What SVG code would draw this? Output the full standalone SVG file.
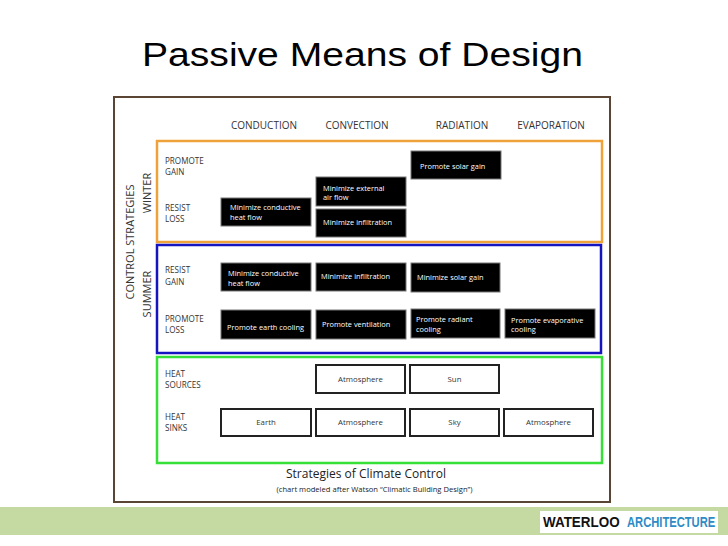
<svg xmlns="http://www.w3.org/2000/svg" width="728" height="546" viewBox="0 0 728 546">
<style>
.title{font-family:"Liberation Sans",Arial,sans-serif;font-size:33px;fill:#000}
.hdr{font-family:"Open Sans","Liberation Sans",sans-serif;font-size:10px;fill:#333}
.lbl{font-family:"Open Sans","Liberation Sans",sans-serif;font-size:8.1px;fill:#333}
.side{font-family:"Open Sans","Liberation Sans",sans-serif;font-size:11px;fill:#333}
.bt{font-family:"Open Sans","Liberation Sans",sans-serif;font-size:7.4px;fill:#fff}
.ht{font-family:"Open Sans","Liberation Sans",sans-serif;font-size:7.8px;fill:#333;text-anchor:middle}
.blk{fill:#000;stroke:#777;stroke-width:1}
.wht{fill:#fff;stroke:#222;stroke-width:2}
.logo{font-family:"Liberation Sans",sans-serif;font-weight:bold;font-size:14px}
</style>
<rect width="728" height="546" fill="#fff"/>
<text class="title" x="142" y="66" textLength="441" lengthAdjust="spacingAndGlyphs">Passive Means of Design</text>
<rect x="114" y="97" width="496" height="405" fill="#fff" stroke="#5a4535" stroke-width="2"/>
<rect x="0" y="507" width="728" height="28" fill="#c5d9a2"/>
<g id="logo">
<rect x="540" y="511" width="178" height="22" fill="#fff"/>
<text class="logo" transform="translate(543,527) scale(0.96,1)" fill="#111">WATERLOO</text>
<text class="logo" transform="translate(627,527) scale(0.8,1)" fill="#2e8bc6">ARCHITECTURE</text>
</g>
<g id="headers">
<text class="hdr" x="264" y="129" text-anchor="middle">CONDUCTION</text>
<text class="hdr" x="357" y="129" text-anchor="middle">CONVECTION</text>
<text class="hdr" x="462" y="129" text-anchor="middle">RADIATION</text>
<text class="hdr" x="551" y="129" text-anchor="middle">EVAPORATION</text>
</g>
<g id="side-labels">
<text class="side" transform="translate(134,242) rotate(-90)" text-anchor="middle">CONTROL STRATEGIES</text>
<text class="side" transform="translate(151,193) rotate(-90)" text-anchor="middle">WINTER</text>
<text class="side" transform="translate(151,294) rotate(-90)" text-anchor="middle">SUMMER</text>
</g>
<g id="winter">
<rect x="157" y="141" width="445" height="101" fill="none" stroke="#f0a23a" stroke-width="2.5"/>
<text class="lbl" x="165" y="164">PROMOTE</text>
<text class="lbl" x="165" y="175">GAIN</text>
<text class="lbl" x="165" y="211">RESIST</text>
<text class="lbl" x="165" y="222">LOSS</text>
</g>
<g id="summer">
<rect x="157" y="245" width="444" height="108" fill="none" stroke="#1414c0" stroke-width="2.5"/>
<text class="lbl" x="165" y="273">RESIST</text>
<text class="lbl" x="165" y="285">GAIN</text>
<text class="lbl" x="165" y="322">PROMOTE</text>
<text class="lbl" x="165" y="333">LOSS</text>
</g>
<g id="sources-sinks">
<rect x="157" y="357" width="445" height="106" fill="none" stroke="#36e036" stroke-width="2.5"/>
<text class="lbl" x="165" y="377">HEAT</text>
<text class="lbl" x="165" y="388">SOURCES</text>
<text class="lbl" x="165" y="420">HEAT</text>
<text class="lbl" x="165" y="431">SINKS</text>
</g>
<g id="w-conduction"><rect class="blk" x="221" y="198" width="90" height="28"/><text class="bt" x="230" y="210">Minimize conductive</text><text class="bt" x="230" y="220">heat flow</text></g>
<g id="w-conv-air"><rect class="blk" x="316" y="177" width="90" height="29"/><text class="bt" x="323" y="191">Minimize external</text><text class="bt" x="323" y="200">air flow</text></g>
<g id="w-conv-inf"><rect class="blk" x="316" y="209" width="90" height="28"/><text class="bt" x="323" y="225">Minimize infiltration</text></g>
<g id="w-radiation"><rect class="blk" x="411" y="151" width="90" height="28"/><text class="bt" x="420" y="169">Promote solar gain</text></g>
<g id="s-conduction"><rect class="blk" x="221" y="263" width="90" height="28"/><text class="bt" x="228" y="276">Minimize conductive</text><text class="bt" x="228" y="286">heat flow</text></g>
<g id="s-conv-inf"><rect class="blk" x="316" y="263" width="90" height="28"/><text class="bt" x="321" y="279">Minimize infiltration</text></g>
<g id="s-radiation"><rect class="blk" x="411" y="263" width="89" height="29"/><text class="bt" x="417" y="280">Minimize solar gain</text></g>
<g id="s-earth"><rect class="blk" x="221" y="310" width="90" height="29"/><text class="bt" x="227" y="330">Promote earth cooling</text></g>
<g id="s-vent"><rect class="blk" x="316" y="310" width="90" height="29"/><text class="bt" x="322" y="327">Promote ventilation</text></g>
<g id="s-radiant"><rect class="blk" x="411" y="309" width="89" height="29"/><text class="bt" x="416" y="322">Promote radiant</text><text class="bt" x="416" y="332">cooling</text></g>
<g id="s-evap"><rect class="blk" x="505" y="309" width="90" height="29"/><text class="bt" x="511" y="323">Promote evaporative</text><text class="bt" x="511" y="332">cooling</text></g>
<g id="src-atmosphere"><rect class="wht" x="316" y="365" width="89" height="28"/><text class="ht" x="360.5" y="382">Atmosphere</text></g>
<g id="src-sun"><rect class="wht" x="410" y="365" width="89" height="28"/><text class="ht" x="454.5" y="382">Sun</text></g>
<g id="sink-earth"><rect class="wht" x="221" y="409" width="90" height="27"/><text class="ht" x="266" y="425">Earth</text></g>
<g id="sink-atmosphere1"><rect class="wht" x="316" y="409" width="89" height="27"/><text class="ht" x="360.5" y="425">Atmosphere</text></g>
<g id="sink-sky"><rect class="wht" x="410" y="409" width="89" height="27"/><text class="ht" x="454.5" y="425">Sky</text></g>
<g id="sink-atmosphere2"><rect class="wht" x="504" y="409" width="89" height="27"/><text class="ht" x="548.5" y="425">Atmosphere</text></g>
<g id="caption">
<text x="366" y="478" text-anchor="middle" font-family="Open Sans,Liberation Sans,sans-serif" font-size="12" fill="#222">Strategies of Climate Control</text>
<text x="374.5" y="492" text-anchor="middle" font-family="Open Sans,Liberation Sans,sans-serif" font-size="7.6" fill="#222">(chart modeled after Watson “Climatic Building Design”)</text>
</g>
<g id="connectors"/>
</svg>
